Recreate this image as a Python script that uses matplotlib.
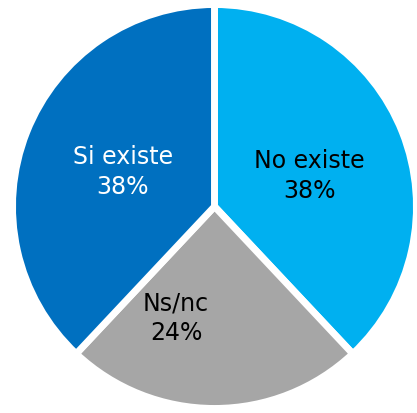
import matplotlib
matplotlib.use("Agg")
import matplotlib.pyplot as plt

categories = ["No existe", "Ns/nc", "Si existe"]
values = [38, 24, 38]
colors = ["#00B0F0", "#A6A6A6", "#0070C0"]
text_colors = ["black", "black", "white"]
# label positions in axes-data coords (radius units)
label_pos = [(0.47, 0.155), (-0.19, -0.55), (-0.455, 0.175)]

fig = plt.figure(figsize=(4.17, 4.14), dpi=100)
ax = fig.add_axes([0, 0, 1, 1])
wedges, _ = ax.pie(values, colors=colors, startangle=90, counterclock=False,
                   radius=1.0, center=(0, 0),
                   wedgeprops=dict(edgecolor="white", linewidth=5))
for cat, v, tc, (x, y) in zip(categories, values, text_colors, label_pos):
    ax.text(x, y, f"{cat}\n{v}%", ha="center", va="center", color=tc,
            fontsize=17, family="DejaVu Sans", linespacing=1.3)
W, H = 417, 414
cx, cy, r = 214.5, 207.5, 202
ax.set_xlim((0 - cx) / r, (W - cx) / r)
ax.set_ylim((cy - H) / r, cy / r)
ax.set_aspect("auto")
ax.axis("off")
fig.savefig("out.png", dpi=100)
